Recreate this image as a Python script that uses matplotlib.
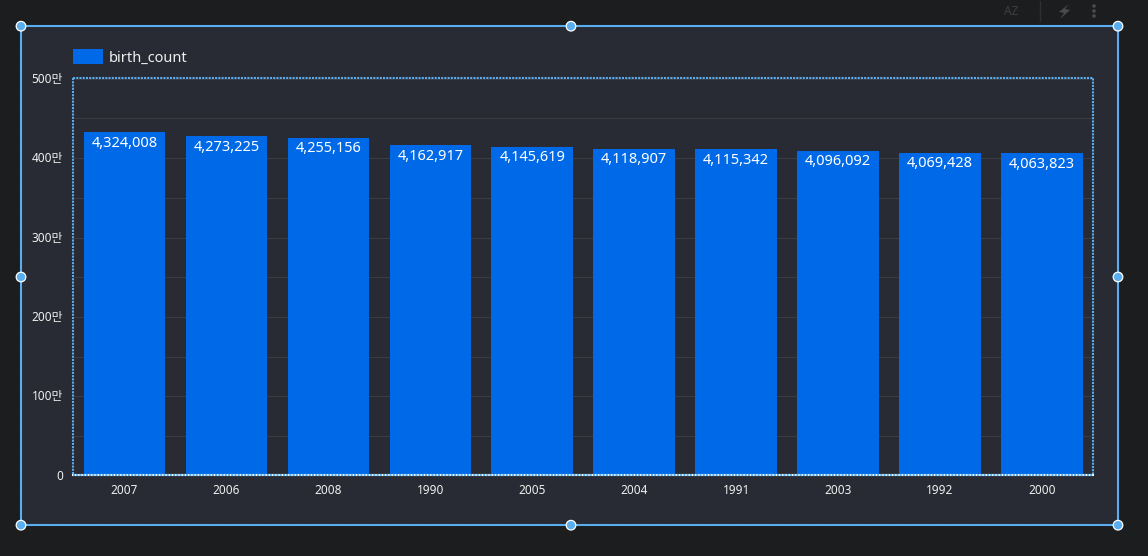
import matplotlib
matplotlib.use("Agg")
import matplotlib.pyplot as plt
from matplotlib.patches import Rectangle, Circle, Polygon
from matplotlib.ticker import FuncFormatter, MultipleLocator
from matplotlib.transforms import ScaledTranslation

plt.rcParams['font.family'] = ['Noto Sans', 'Noto Sans CJK KR', 'DejaVu Sans']

years = ['2007', '2006', '2008', '1990', '2005', '2004', '1991', '2003', '1992', '2000']
birth_count = [4324008, 4273225, 4255156, 4162917, 4145619, 4118907, 4115342, 4096092, 4069428, 4063823]
series_name = 'birth_count'

W, H = 1148, 556
PAGE = '#1c1d1f'
PANEL = '#282b33'
BAR = '#0069e8'
BLUE = '#5aaef0'
TXT = '#f0f0f0'
GRID = '#3a3c42'

fig = plt.figure(figsize=(W / 100, H / 100), dpi=100, facecolor=PAGE)

# Overlay in pixel coordinates for the dashboard chrome
bg = fig.add_axes([0, 0, 1, 1], zorder=0)
bg.set_xlim(0, W)
bg.set_ylim(H, 0)
bg.axis('off')
for gx in range(10, W, 20):
    bg.plot([gx, gx], [0, H], color='#1f2022', lw=0.5, zorder=0)
for gy in range(10, H, 20):
    bg.plot([0, W], [gy, gy], color='#1f2022', lw=0.5, zorder=0)
bg.add_patch(Rectangle((21, 26.2), 1097, 499, fc=PANEL, ec='none', zorder=1))

# Plot area
L, R, T, B = 73.5, 1093, 78.7, 475.9
ax = fig.add_axes([L / W, 1 - B / H, (R - L) / W, (B - T) / H], zorder=2)
ax.patch.set_alpha(0)
ax.bar(range(len(years)), birth_count, width=0.8, color=BAR, zorder=3)
ax.set_xlim(-0.5, len(years) - 0.5)
ax.set_ylim(0, 5000000)
ax.yaxis.set_major_locator(MultipleLocator(1000000))
ax.yaxis.set_minor_locator(MultipleLocator(500000))
ax.yaxis.set_major_formatter(FuncFormatter(lambda v, _: '0' if v == 0 else f'{int(v / 10000)}만'))
ax.grid(True, axis='y', which='both', color=GRID, lw=0.8, zorder=1)
ax.set_xticks(range(len(years)), years)
ax.tick_params(axis='both', which='both', length=0, colors=TXT, labelsize=8.5)
ax.tick_params(axis='x', pad=5.8)
ax.tick_params(axis='y', pad=7.5)
for s in ax.spines.values():
    s.set_visible(False)
for lab in ax.get_yticklabels():
    lab.set_transform(lab.get_transform() + ScaledTranslation(0, 1 / 100, fig.dpi_scale_trans))

for i, v in enumerate(birth_count):
    ax.annotate(f'{v:,}', (i, v), xytext=(0, -2.6), textcoords='offset points',
                ha='center', va='top', color='white', fontsize=10.5, zorder=4)

# Dotted selection frame of the plot area
ov = fig.add_axes([0, 0, 1, 1], zorder=5)
ov.set_xlim(0, W)
ov.set_ylim(H, 0)
ov.axis('off')
ov.patch.set_alpha(0)
FL, FR, FT, FB = 73.2, 1093.2, 78.2, 475.2
dots = dict(color=BLUE, lw=1.5, ls=(0, (1.0, 0.55)))
ov.plot([FL, FR, FR], [FT, FT, FB], **dots)
ov.plot([FL, FL], [FT, FB], **dots)
ov.plot([FL, FR], [FB, FB], color='white', lw=1.5)
ov.plot([FL, FR], [FB, FB], **dots)

# Outer selection frame with handles
ov.add_patch(Rectangle((21, 26.2), 1097, 499, fc='none', ec=BLUE, lw=1.5))
hx = [21, 571, 1118]
hy = [26.2, 277, 525.2]
for x in hx:
    for y in hy:
        if x == 571 and y == 277:
            continue
        ov.add_patch(Circle((x, y), 4.8, fc=BLUE, ec='white', lw=0.9, zorder=6))

# Legend
ov.add_patch(Rectangle((73, 49), 30, 15, fc=BAR, ec='none'))
ov.text(109, 58.3, series_name, color=TXT, fontsize=10.5, va='center', ha='left')

# Toolbar glyphs
ICON = '#4a4b4e'
ov.text(1011, 11.5, 'AZ', color='#3c3d40', fontsize=8.5, ha='center', va='center', fontweight='bold')
ov.plot([1040, 1040], [1, 21], color='#2e2f32', lw=1)
ov.add_patch(Polygon([(1069, 4), (1059, 12), (1064, 13), (1060, 19), (1070, 10), (1065, 9)], fc=ICON, ec='none'))
for y in (6, 11, 16):
    ov.add_patch(Circle((1094, y), 1.8, fc=ICON, ec='none'))

fig.savefig('out.png', dpi=100, facecolor=PAGE)
